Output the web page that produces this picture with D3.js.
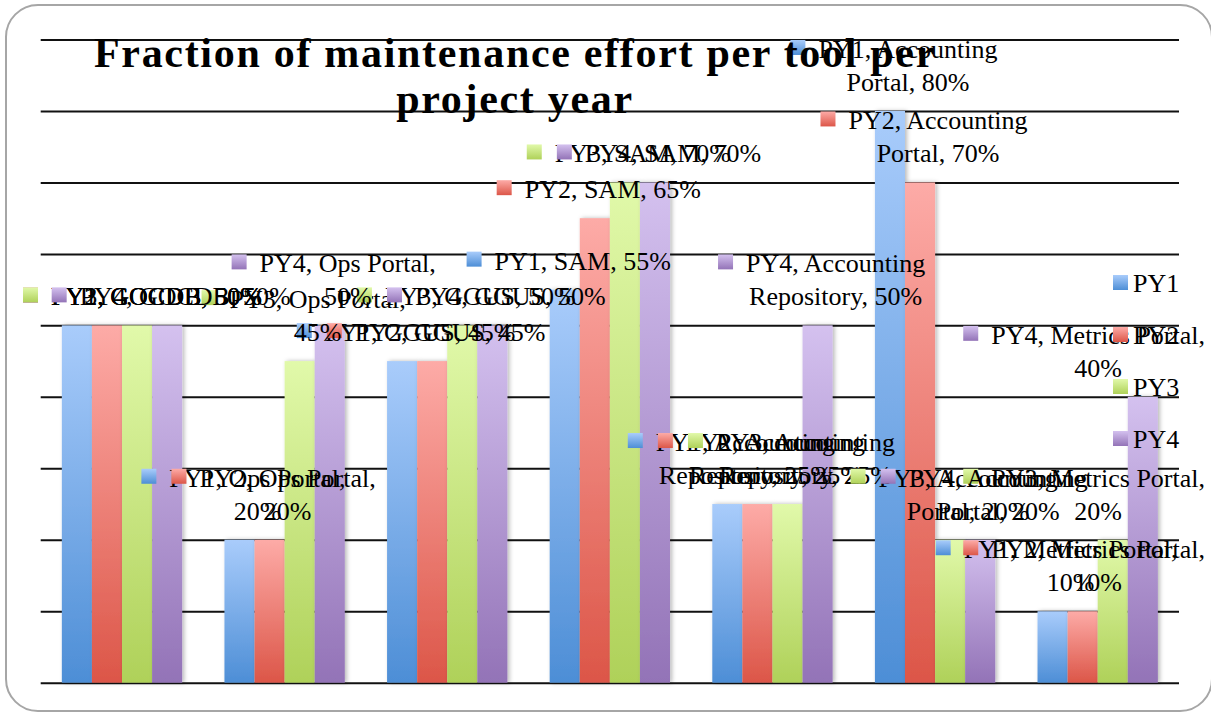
<!DOCTYPE html>
<html>
<head>
<meta charset="utf-8">
<script src="https://cdn.jsdelivr.net/npm/d3@7"></script>
<style>
  html, body { margin: 0; padding: 0; background: #fff; }
  svg { display: block; }
</style>
</head>
<body>
<div id="chart"></div>
<script>
// chart data
const categories = ['GOCDB', 'Ops Portal', 'GGUS', 'SAM', 'Accounting Repository', 'Accounting Portal', 'Metrics Portal'];
const seriesNames = ['PY1', 'PY2', 'PY3', 'PY4'];
const py1 = [50, 20, 45, 55, 25, 80, 10];
const py2 = [50, 20, 45, 65, 25, 70, 10];
const py3 = [50, 45, 50, 70, 25, 20, 20];
const py4 = [50, 50, 50, 70, 50, 20, 40];
const gridTicks = [0, 10, 20, 30, 40, 50, 60, 70, 80, 90];
const titleLines = ['Fraction of maintenance effort per tool per', 'project year'];

const seriesValues = [py1, py2, py3, py4];

// layout
const W = 1211, H = 712;
const PLOT = {left: 40.7, right: 1179, top: 39.5, bottom: 682.7};
const LABEL_FONT = 26;
const WRAP_WIDTH = 222;
const LABEL_BOUNDS = [23, 1205];

// gradient colours per series (top light, bottom dark)
const colors = [
  ['#a9ccfb', '#4d8ed6'],
  ['#fdaba7', '#dc5648'],
  ['#e1f9aa', '#afd159'],
  ['#d4c1ef', '#9373b7']
];

const svg = d3.select('#chart').append('svg')
  .attr('width', W)
  .attr('height', H)
  .style('font-family', '"Liberation Serif", "Times New Roman", serif');

const defs = svg.append('defs');
colors.forEach((c, i) => {
  const g = defs.append('linearGradient')
    .attr('id', 'grad' + i)
    .attr('x1', 0).attr('y1', 0).attr('x2', 0).attr('y2', 1);
  g.append('stop').attr('offset', '0%').attr('stop-color', c[0]);
  g.append('stop').attr('offset', '100%').attr('stop-color', c[1]);
});
const shadow = defs.append('filter').attr('id', 'shadow')
  .attr('x', '-20%').attr('y', '-5%').attr('width', '160%').attr('height', '110%');
shadow.append('feDropShadow')
  .attr('dx', 2).attr('dy', 0).attr('stdDeviation', 2)
  .attr('flood-color', '#000').attr('flood-opacity', 0.28);

// rounded frame
svg.append('rect')
  .attr('x', 6).attr('y', 5)
  .attr('width', 1206).attr('height', 706)
  .attr('rx', 32).attr('ry', 32)
  .attr('fill', '#fff')
  .attr('stroke', '#a6a6a6')
  .attr('stroke-width', 2);

// scales
const xScale = d3.scaleBand()
  .domain(categories)
  .range([PLOT.left, PLOT.right])
  .paddingInner(0.26)
  .paddingOuter(0.13);
const xSeries = d3.scaleBand()
  .domain(seriesNames)
  .range([0, xScale.bandwidth()]);
const yScale = d3.scaleLinear()
  .domain([0, 90])
  .range([PLOT.bottom, PLOT.top]);

// gridlines through a right axis with long ticks, labels hidden
const yAxis = g => g
  .call(d3.axisRight(yScale)
    .tickValues(gridTicks)
    .tickSize(PLOT.right - PLOT.left)
    .tickFormat(''))
  .call(g => g.select('.domain').remove())
  .call(g => g.selectAll('.tick line')
    .attr('stroke', '#111')
    .attr('stroke-width', 2));
svg.append('g')
  .attr('transform', `translate(${PLOT.left},0)`)
  .call(yAxis);

// bars
const barData = [];
seriesNames.forEach((s, j) => {
  categories.forEach((c, i) => {
    barData.push({series: s, si: j, category: c, value: seriesValues[j][i]});
  });
});

svg.append('g')
  .selectAll('rect')
  .data(barData)
  .join('rect')
  .attr('x', d => xScale(d.category) + xSeries(d.series))
  .attr('y', d => yScale(d.value))
  .attr('width', xSeries.bandwidth())
  .attr('height', d => yScale(0) - yScale(d.value))
  .attr('fill', d => `url(#grad${d.si})`)
  .attr('filter', 'url(#shadow)');

// data labels: "series, category, value%" with a colour key, placed outside end
const labelLayer = svg.append('g').attr('font-size', LABEL_FONT).attr('fill', '#000');
const measure = labelLayer.append('text').attr('visibility', 'hidden');
function textWidth(s) {
  measure.text(s);
  return measure.node().getComputedTextLength();
}
function wrap(s) {
  const words = s.split(' ');
  const lines = [];
  let cur = '';
  words.forEach(w => {
    const test = cur ? cur + ' ' + w : w;
    if (cur && textWidth(test) > WRAP_WIDTH) {
      lines.push(cur);
      cur = w;
    } else {
      cur = test;
    }
  });
  lines.push(cur);
  return lines;
}

const LINE_H = 33;
barData.forEach(d => {
  const lines = wrap(`${d.series}, ${d.category}, ${d.value}%`);
  const tw = d3.max(lines, l => textWidth(l));
  const blockW = 28 + tw;
  const cx = xScale(d.category) + xSeries(d.series) + xSeries.bandwidth() / 2 + 4;
  let left = cx - blockW / 2;
  left = Math.max(LABEL_BOUNDS[0], Math.min(left, LABEL_BOUNDS[1] - blockW));
  const lastBase = yScale(d.value) - 20;
  const firstBase = lastBase - LINE_H * (lines.length - 1);

  const g = labelLayer.append('g');
  g.append('rect')
    .attr('x', left)
    .attr('y', firstBase - 18)
    .attr('width', 15)
    .attr('height', 15)
    .attr('fill', `url(#grad${d.si})`);
  lines.forEach((l, k) => {
    g.append('text')
      .attr('x', left + 28 + tw / 2)
      .attr('y', firstBase + k * LINE_H)
      .attr('text-anchor', 'middle')
      .text(l);
  });
});
measure.remove();

// legend
const legend = svg.append('g')
  .attr('font-size', LABEL_FONT)
  .attr('transform', 'translate(1113, 275)');
const legendItems = legend.selectAll('g')
  .data(seriesNames)
  .join('g')
  .attr('transform', (d, i) => `translate(0, ${i * 52})`);
legendItems.append('rect')
  .attr('width', 15).attr('height', 15)
  .attr('fill', (d, i) => `url(#grad${i})`);
legendItems.append('text')
  .attr('x', 20)
  .attr('y', 17)
  .text(d => d);

// title
svg.append('g')
  .attr('font-size', 42)
  .attr('font-weight', 'bold')
  .attr('letter-spacing', 1.7)
  .attr('text-anchor', 'middle')
  .selectAll('text')
  .data(titleLines)
  .join('text')
  .attr('x', 515)
  .attr('y', (d, i) => 67 + i * 46)
  .text(d => d);
</script>
</body>
</html>
